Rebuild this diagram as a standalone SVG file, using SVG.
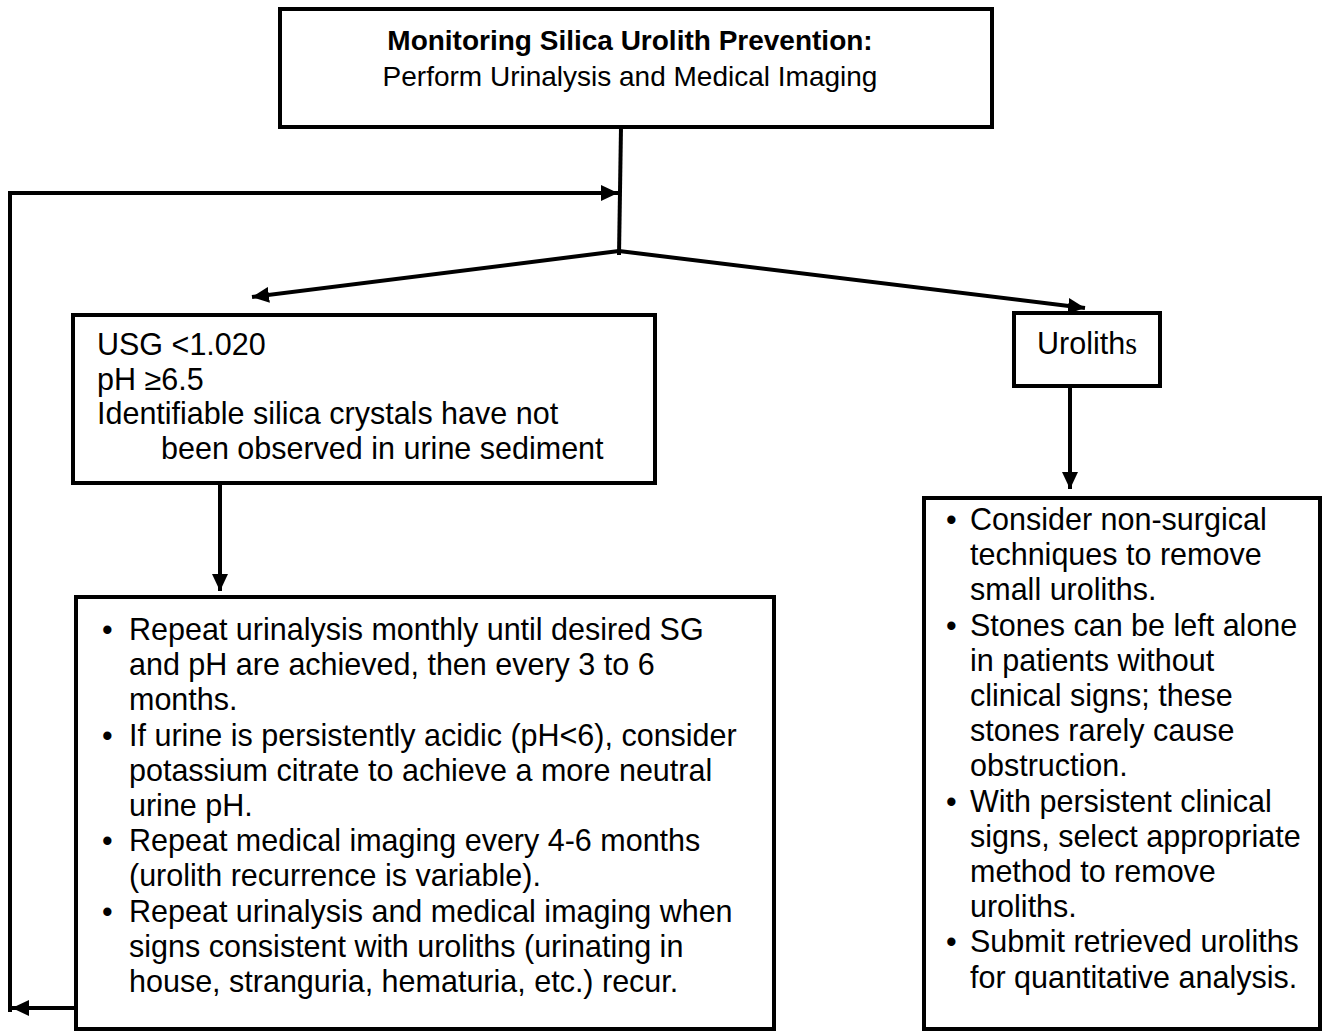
<svg xmlns="http://www.w3.org/2000/svg" width="1327" height="1032" viewBox="0 0 1327 1032">
<style>
.box{fill:#fff;stroke:#000;stroke-width:4}
.t{font-family:"Liberation Sans",Arial,sans-serif;font-size:30.5px;fill:#000}
.h{font-family:"Liberation Sans",Arial,sans-serif;font-size:28px;fill:#000}
.c{fill:none;stroke:#000;stroke-width:4}
</style>
<defs>
<marker id="ah" markerUnits="userSpaceOnUse" markerWidth="18" markerHeight="16" refX="17" refY="8" orient="auto">
<path d="M0,0 L17,8 L0,16 z" fill="#000"/>
</marker>
</defs>
<rect width="1327" height="1032" fill="#fff"/>
<g id="connectors">
<line class="c" x1="621" y1="127" x2="619" y2="255"/>
<polyline class="c" points="10,1012 10,193 618,193" marker-end="url(#ah)"/>
<line class="c" x1="76" y1="1008" x2="12" y2="1008" marker-end="url(#ah)"/>
<line class="c" x1="619" y1="251" x2="252" y2="297" marker-end="url(#ah)"/>
<line class="c" x1="619" y1="251" x2="1085" y2="308" marker-end="url(#ah)"/>
<line class="c" x1="1070" y1="377" x2="1070" y2="489" marker-end="url(#ah)"/>
<line class="c" x1="220" y1="483" x2="220" y2="591" marker-end="url(#ah)"/>
</g>
<g id="top">
<rect class="box" x="280" y="9" width="712" height="118"/>
<text class="h" x="630" y="50" text-anchor="middle" font-weight="bold">Monitoring Silica Urolith Prevention:</text>
<text class="h" x="630" y="86" text-anchor="middle">Perform Urinalysis and Medical Imaging</text>
</g>
<g id="criteria">
<rect class="box" x="73" y="315" width="582" height="168"/>
<text class="t" x="97" y="355">USG &lt;1.020</text>
<text class="t" x="97" y="389.5">pH ≥6.5</text>
<text class="t" x="97" y="424">Identifiable silica crystals have not</text>
<text class="t" x="161" y="458.5">been observed in urine sediment</text>
</g>
<g id="uroliths">
<rect class="box" x="1014" y="313" width="146" height="73"/>
<text class="t" x="1087" y="354" text-anchor="middle">Urolith<tspan font-family="'Liberation Serif',serif">s</tspan></text>
</g>
<g id="monitoring">
<rect class="box" x="76" y="597" width="698" height="432"/>
<g class="t">
<text class="t" x="102" y="640">•</text>
<text class="t" x="129" y="640">Repeat urinalysis monthly until desired SG</text>
<text class="t" x="129" y="675.2">and pH are achieved, then every 3 to 6</text>
<text class="t" x="129" y="710.4">months.</text>
<text class="t" x="102" y="745.6">•</text>
<text class="t" x="129" y="745.6">If urine is persistently acidic (pH&lt;6), consider</text>
<text class="t" x="129" y="780.8">potassium citrate to achieve a more neutral</text>
<text class="t" x="129" y="816">urine pH.</text>
<text class="t" x="102" y="851.2">•</text>
<text class="t" x="129" y="851.2">Repeat medical imaging every 4-6 months</text>
<text class="t" x="129" y="886.4">(urolith recurrence is variable).</text>
<text class="t" x="102" y="921.6">•</text>
<text class="t" x="129" y="921.6">Repeat urinalysis and medical imaging when</text>
<text class="t" x="129" y="956.8">signs consistent with uroliths (urinating in</text>
<text class="t" x="129" y="992">house, stranguria, hematuria, etc.) recur.</text>
</g>
</g>
<g id="treatment">
<rect class="box" x="924" y="498" width="396" height="531"/>
<text class="t" x="946" y="530">•</text>
<text class="t" x="970" y="530">Consider non-surgical</text>
<text class="t" x="970" y="565.2">techniques to remove</text>
<text class="t" x="970" y="600.4">small uroliths.</text>
<text class="t" x="946" y="635.6">•</text>
<text class="t" x="970" y="635.6">Stones can be left alone</text>
<text class="t" x="970" y="670.8">in patients without</text>
<text class="t" x="970" y="706">clinical signs; these</text>
<text class="t" x="970" y="741.2">stones rarely cause</text>
<text class="t" x="970" y="776.4">obstruction.</text>
<text class="t" x="946" y="811.6">•</text>
<text class="t" x="970" y="811.6">With persistent clinical</text>
<text class="t" x="970" y="846.8">signs, select appropriate</text>
<text class="t" x="970" y="882">method to remove</text>
<text class="t" x="970" y="917.2">uroliths.</text>
<text class="t" x="946" y="952.4">•</text>
<text class="t" x="970" y="952.4">Submit retrieved uroliths</text>
<text class="t" x="970" y="987.6">for quantitative analysis.</text>
</g>
</svg>
